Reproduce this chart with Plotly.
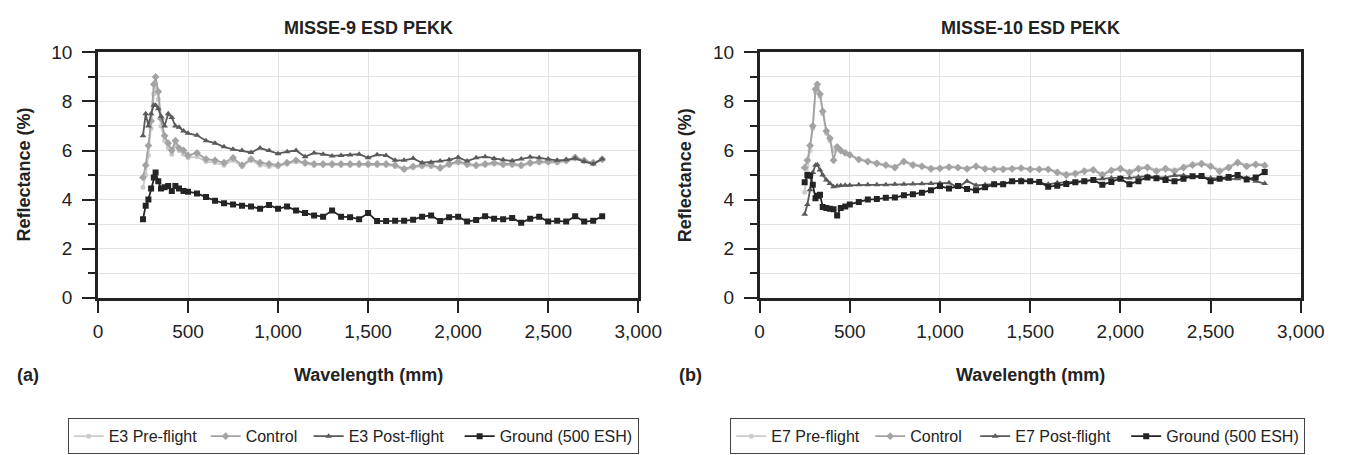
import plotly.graph_objects as go

# ---------------- data ----------------
wavelength = [250, 265, 280, 295, 310, 320, 335, 350, 370, 390, 410, 430, 450, 475, 500,
              550, 600, 650, 700, 750, 800, 850, 900, 950, 1000, 1050, 1100, 1150, 1200, 1250,
              1300, 1350, 1400, 1450, 1500, 1550, 1600, 1650, 1700, 1750, 1800, 1850, 1900, 1950,
              2000, 2050, 2100, 2150, 2200, 2250, 2300, 2350, 2400, 2450, 2500, 2550, 2600, 2650,
              2700, 2750, 2800]

# MISSE-9 (a)
m9_pre = [4.5, 5.0, 5.8, 6.9, 8.3, 8.7, 8.1, 7.0, 6.4, 6.1, 5.85, 6.2, 6.0, 5.85, 5.7,
          5.75, 5.55, 5.5, 5.4, 5.6, 5.35, 5.6, 5.4, 5.35, 5.35, 5.45, 5.55, 5.45, 5.4, 5.4,
          5.4, 5.4, 5.4, 5.4, 5.4, 5.4, 5.4, 5.35, 5.2, 5.3, 5.35, 5.35, 5.25, 5.4,
          5.5, 5.4, 5.35, 5.4, 5.45, 5.4, 5.4, 5.35, 5.45, 5.5, 5.5, 5.5, 5.55, 5.65,
          5.55, 5.5, 5.6]
m9_control = [4.9, 5.4, 6.2, 7.2, 8.7, 9.0, 8.4, 7.3, 6.6, 6.3, 6.0, 6.4, 6.1, 6.0, 5.8,
              5.9, 5.65, 5.6, 5.5, 5.7, 5.4, 5.65, 5.5, 5.45, 5.4, 5.5, 5.6, 5.5, 5.45, 5.45,
              5.45, 5.45, 5.45, 5.45, 5.45, 5.45, 5.45, 5.4, 5.25, 5.35, 5.4, 5.4, 5.3, 5.45,
              5.55, 5.45, 5.4, 5.45, 5.5, 5.45, 5.45, 5.4, 5.5, 5.55, 5.55, 5.55, 5.6, 5.72,
              5.6, 5.5, 5.65]
m9_post = [6.6, 7.5, 7.0, 7.5, 7.85, 7.85, 7.7, 7.4, 7.0, 7.5, 7.35, 7.0, 6.95, 6.8, 6.7,
           6.62, 6.4, 6.3, 6.15, 6.05, 6.0, 5.92, 6.1, 6.0, 5.87, 5.95, 6.0, 5.75, 5.9, 5.85,
           5.78, 5.8, 5.82, 5.85, 5.7, 5.83, 5.8, 5.6, 5.6, 5.68, 5.5, 5.52, 5.57, 5.62,
           5.72, 5.57, 5.7, 5.75, 5.67, 5.62, 5.58, 5.65, 5.73, 5.7, 5.65, 5.6, 5.62, 5.68,
           5.55, 5.45, 5.65]
m9_ground = [3.2, 3.75, 4.0, 4.45, 4.9, 5.1, 4.75, 4.45, 4.5, 4.55, 4.35, 4.55, 4.45, 4.35, 4.32,
             4.25, 4.1, 3.95, 3.85, 3.8, 3.75, 3.72, 3.62, 3.78, 3.62, 3.72, 3.55, 3.45, 3.35, 3.3,
             3.55, 3.3, 3.28, 3.2, 3.45, 3.12, 3.12, 3.13, 3.13, 3.18, 3.3, 3.35, 3.12, 3.28,
             3.3, 3.1, 3.17, 3.32, 3.22, 3.2, 3.25, 3.05, 3.22, 3.3, 3.1, 3.13, 3.1, 3.32,
             3.1, 3.13, 3.32]

# MISSE-10 (b)
m10_pre = [4.3, 5.1, 6.0, 6.9, 8.4, 8.6, 8.2, 7.5, 6.7, 6.4, 6.0, 6.1, 6.0, 5.9, 5.85,
           5.66, 5.58, 5.5, 5.43, 5.35, 5.58, 5.45, 5.38, 5.3, 5.3, 5.36, 5.33, 5.28, 5.38, 5.28,
           5.27, 5.27, 5.28, 5.3, 5.26, 5.26, 5.26, 5.15, 5.05, 5.1, 5.2, 5.25, 5.05, 5.22,
           5.3, 5.15, 5.3, 5.35, 5.2, 5.3, 5.2, 5.35, 5.45, 5.5, 5.4, 5.2, 5.35, 5.55,
           5.4, 5.47, 5.42]
m10_control = [5.3, 5.6, 6.2, 7.0, 8.5, 8.7, 8.3, 7.6, 6.8, 6.5, 5.6, 6.15, 6.0, 5.9, 5.82,
               5.63, 5.55, 5.47, 5.4, 5.3, 5.55, 5.4, 5.35, 5.25, 5.27, 5.32, 5.3, 5.25, 5.35, 5.25,
               5.23, 5.23, 5.25, 5.28, 5.23, 5.23, 5.23, 5.1, 5.0, 5.05, 5.15, 5.2, 5.0, 5.18,
               5.25, 5.1, 5.25, 5.3, 5.15, 5.25, 5.15, 5.3, 5.4, 5.45, 5.35, 5.15, 5.3, 5.5,
               5.35, 5.42, 5.38]
m10_post = [3.4, 3.8, 4.4, 5.1, 5.4, 5.42, 5.2, 5.0, 4.8, 4.65, 4.52, 4.55, 4.57, 4.58, 4.58,
            4.6, 4.6, 4.6, 4.6, 4.62, 4.62, 4.63, 4.64, 4.65, 4.66, 4.68, 4.5, 4.75, 4.58, 4.6,
            4.63, 4.66, 4.7, 4.8, 4.75, 4.68, 4.62, 4.68, 4.7, 4.7, 4.75, 4.8, 4.85, 4.88,
            4.88, 4.88, 4.92, 4.95, 4.9, 4.9, 4.98, 4.98, 4.93, 4.9, 4.88, 4.85, 4.82, 4.85,
            4.88, 4.75, 4.65]
m10_ground = [4.7, 5.0, 4.97, 4.6, 4.05, 4.15, 4.2, 3.7, 3.65, 3.62, 3.6, 3.35, 3.65, 3.72, 3.8,
              3.9, 4.0, 4.02, 4.07, 4.08, 4.17, 4.22, 4.28, 4.38, 4.55, 4.45, 4.55, 4.43, 4.38, 4.5,
              4.62, 4.62, 4.75, 4.75, 4.75, 4.72, 4.52, 4.56, 4.63, 4.7, 4.75, 4.8, 4.6, 4.72,
              4.85, 4.62, 4.75, 4.9, 4.87, 4.8, 4.75, 4.85, 4.95, 4.96, 4.75, 4.85, 4.92, 5.0,
              4.82, 4.9, 5.12]

titles = ["MISSE-9 ESD PEKK", "MISSE-10 ESD PEKK"]
panel_tags = ["(a)", "(b)"]
names_a = ["E3 Pre-flight", "Control", "E3 Post-flight", "Ground (500 ESH)"]
names_b = ["E7 Pre-flight", "Control", "E7 Post-flight", "Ground (500 ESH)"]
x_ticks = [0, 500, 1000, 1500, 2000, 2500, 3000]

# ---------------- styling ----------------
W, H = 1361, 455
FONT = "Liberation Sans Narrow, Arial Narrow, Liberation Sans, Arial, sans-serif"
colors = ["#cbcbcb", "#a3a3a3", "#5a5a5a", "#242424"]
symbols = ["circle", "diamond", "triangle-up", "square"]
msizes = [5, 6, 6, 6]
legend_w_a = [92, 58, 106, None]
legend_w_b = [94, 60, 106, None]

def px_x(p):
    return p / W

def px_y(p):
    return 1 - p / H

plot_top, plot_bot = 44.5, 301.5
dom_y = [px_y(plot_bot), px_y(plot_top)]
dom_x1 = [px_x(95), px_x(647)]
dom_x2 = [px_x(771), px_x(1324)]

fig = go.Figure()

series_a = [m9_pre, m9_control, m9_post, m9_ground]
series_b = [m10_pre, m10_control, m10_post, m10_ground]

for i in range(4):
    fig.add_trace(go.Scatter(
        x=wavelength, y=series_a[i], name=names_a[i], mode="lines+markers",
        line=dict(color=colors[i], width=1.8),
        marker=dict(symbol=symbols[i], size=msizes[i], color=colors[i]),
        xaxis="x", yaxis="y", legend="legend", legendwidth=legend_w_a[i]))
for i in range(4):
    fig.add_trace(go.Scatter(
        x=wavelength, y=series_b[i], name=names_b[i], mode="lines+markers",
        line=dict(color=colors[i], width=1.8),
        marker=dict(symbol=symbols[i], size=msizes[i], color=colors[i]),
        xaxis="x2", yaxis="y2", legend="legend2", legendwidth=legend_w_b[i]))

def xaxis_cfg(domain, anchor):
    return dict(domain=domain, anchor=anchor, range=[0, 3000], tickvals=x_ticks,
                tickformat=",d", ticks="outside", ticklen=13, tickwidth=1.5,
                tickcolor="#222", showline=True, linewidth=2.5, linecolor="#222",
                mirror=True, showgrid=True, gridcolor="#e3e3e3", gridwidth=1,
                zeroline=False, tickfont=dict(family=FONT, size=19, color="#222"),
                ticklabelstandoff=2, fixedrange=True)

def yaxis_cfg(domain, anchor):
    return dict(domain=domain, anchor=anchor, range=[0, 10], dtick=2, tick0=0,
                ticks="outside", ticklen=13, tickwidth=1.5, tickcolor="#222",
                showline=True, linewidth=2.5, linecolor="#222", mirror=True,
                showgrid=True, gridcolor="#e3e3e3", gridwidth=1, zeroline=False,
                tickfont=dict(family=FONT, size=19, color="#222"),
                ticklabelstandoff=6,
                minor=dict(dtick=1, ticks="outside", ticklen=7, tickwidth=1.5,
                           tickcolor="#222", showgrid=True, gridcolor="#e3e3e3"),
                fixedrange=True)

legend_common = dict(orientation="h", xanchor="left", yanchor="top",
                     bordercolor="#444", borderwidth=1, bgcolor="white",
                     font=dict(family=FONT, size=16, color="#222"),
                     itemwidth=30, tracegroupgap=0)

fig.update_layout(
    width=W, height=H, margin=dict(l=0, r=0, t=0, b=0),
    paper_bgcolor="white", plot_bgcolor="white",
    xaxis=xaxis_cfg(dom_x1, "y"), yaxis=yaxis_cfg(dom_y, "x"),
    xaxis2=xaxis_cfg(dom_x2, "y2"), yaxis2=yaxis_cfg(dom_y, "x2"),
    legend=dict(x=px_x(64), y=px_y(428), **legend_common),
    legend2=dict(x=px_x(741), y=px_y(428), **legend_common),
    showlegend=True,
)

ann = []
for k, (dx, tag_x, ylab_x) in enumerate([(dom_x1, 23, 19), (dom_x2, 700, 695)]):
    cx = (dx[0] + dx[1]) / 2
    ann.append(dict(text="<b>%s</b>" % titles[k], x=cx, y=px_y(19), xref="paper", yref="paper",
                    showarrow=False, font=dict(family=FONT, size=18, color="#222"),
                    xanchor="center", yanchor="middle"))
    ann.append(dict(text="<b>Wavelength (mm)</b>", x=cx, y=px_y(383), xref="paper", yref="paper",
                    showarrow=False, font=dict(family=FONT, size=18, color="#222"),
                    xanchor="center", yanchor="middle"))
    ann.append(dict(text="<b>%s</b>" % panel_tags[k], x=px_x(tag_x), y=px_y(383), xref="paper",
                    yref="paper", showarrow=False, font=dict(family=FONT, size=18, color="#222"),
                    xanchor="center", yanchor="middle"))
    ann.append(dict(text="<b>Reflectance (%)</b>", x=px_x(ylab_x), y=px_y((plot_top + plot_bot) / 2),
                    xref="paper", yref="paper", showarrow=False, textangle=-90,
                    font=dict(family=FONT, size=18, color="#222"),
                    xanchor="center", yanchor="middle"))
fig.update_layout(annotations=ann)

fig.write_html("out.html")
